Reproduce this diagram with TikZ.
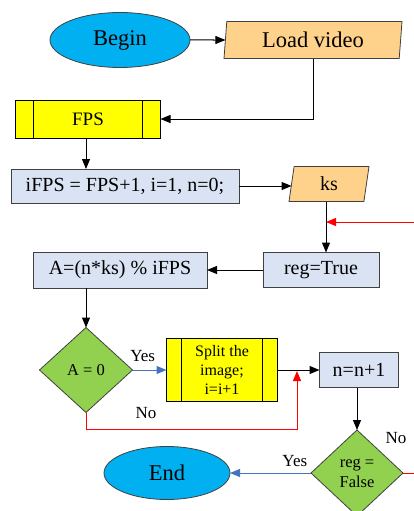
\documentclass[tikz,border=0pt]{standalone}
\usepackage{fontspec}
\setmainfont{Liberation Serif}
\usetikzlibrary{shapes.geometric,arrows.meta}

\definecolor{termblue}{RGB}{0,176,240}
\definecolor{ioorange}{RGB}{255,210,140}
\definecolor{procblue}{RGB}{218,227,243}
\definecolor{subyellow}{RGB}{255,255,0}
\definecolor{decgreen}{RGB}{146,208,80}
\definecolor{yesblue}{RGB}{68,114,196}
\definecolor{edgegray}{RGB}{64,64,64}

\begin{document}
\begin{tikzpicture}[x=1pt, y=-1pt,
  every node/.style={inner sep=0pt, outer sep=0pt, text=black},
  term/.style={ellipse, draw=edgegray, fill=termblue, line width=0.8pt,
    font=\fontsize{22.5}{24}\selectfont},
  inout/.style={trapezium, trapezium stretches body, draw=edgegray, fill=ioorange,
    line width=0.8pt, font=\fontsize{#1}{22}\selectfont},
  proc/.style={rectangle, draw=edgegray, fill=procblue, line width=1pt,
    font=\fontsize{20}{22}\selectfont},
  subproc/.style={rectangle, draw=black, fill=subyellow, line width=1pt,
    path picture={
      \draw[line width=1pt] ([xshift=#1]path picture bounding box.north west)
        -- ([xshift=#1]path picture bounding box.south west);
      \draw[line width=1pt] ([xshift=-#1]path picture bounding box.north east)
        -- ([xshift=-#1]path picture bounding box.south east);}},
  decide/.style={diamond, draw=edgegray, fill=decgreen, line width=0.8pt,
    font=\fontsize{16.5}{20}\selectfont, align=center},
  lbl/.style={font=\fontsize{17}{20}\selectfont},
  flow/.style={-{Triangle[length=10pt,width=8pt]}, line width=1pt, black},
  yesflow/.style={-{Triangle[length=10pt,width=8pt]}, line width=1pt, yesblue},
  noflow/.style={line width=1pt, red},
  ]
  \useasboundingbox (0,0) rectangle (414,511);

  % nodes
  \node[term, minimum width=140pt, minimum height=55pt] (begin) at (120,40) {Begin};
  \node[inout=22.5, trapezium left angle=80, trapezium right angle=100,
    minimum width=178pt, minimum height=37pt] (load) at (313,40) {Load video};
  \node[subproc=18pt, minimum width=145pt, minimum height=38pt,
    font=\fontsize{19}{22}\selectfont] (fps) at (88,119) {FPS};
  \node[proc, minimum width=228pt, minimum height=34pt] (ifps) at (125,186)
    {iFPS = FPS+1, i=1, n=0;};
  \node[inout=20, trapezium left angle=70, trapezium right angle=110,
    minimum width=80pt, minimum height=35pt] (ks) at (329,184) {ks};
  \node[proc, minimum width=116pt, minimum height=35pt] (regtrue) at (321,270) {reg=True};
  \node[proc, minimum width=174pt, minimum height=36pt] (abox) at (120,270)
    {A=(n*ks) \% iFPS};
  \node[decide, minimum width=93pt, minimum height=85pt] (dA) at (86,370) {A = 0};
  \node[subproc=15pt, minimum width=111pt, minimum height=63pt, align=center,
    font=\fontsize{16}{19}\selectfont] (split) at (222,370) {Split the\\image;\\i=i+1};
  \node[proc, minimum width=79pt, minimum height=35pt] (ninc) at (359,370) {n=n+1};
  \node[decide, minimum width=92pt, minimum height=86pt] (dreg) at (357,473)
    {reg =\\False};
  \node[term, minimum width=126pt, minimum height=53pt] (end) at (167,473) {End};

  % connectors
  \draw[flow] (begin) -- (load);
  \draw[flow] (load.south) |- (fps.east);
  \draw[flow] (fps.south -| 86,0) -- (ifps.north -| 86,0);
  \draw[flow] (ifps.east) -- (ifps.east -| ks.west);
  \draw[flow] (ks.south -| 326,0) -- (regtrue.north -| 326,0);
  \coordinate (backin) at (416,222);
  \draw[flow, red] (backin) -- (backin -| 326,0);
  \draw[flow] (regtrue) -- (abox);
  \draw[flow] (abox.south -| dA.north) -- (dA.north);
  \draw[yesflow] (dA) -- (split) node[lbl, pos=0.3, above=8pt] {Yes};
  \draw[flow] (split) -- (ninc);
  \coordinate (merge) at (297,371);
  \draw[noflow, -{Triangle[length=10pt,width=8pt]}] (dA.south) -- ++(0,17) -| (merge);
  \node[lbl] (no1) at (146,413) {No};
  \draw[flow] (ninc.south -| dreg.north) -- (dreg.north);
  \draw[yesflow] (dreg) -- (end) node[lbl, pos=0.2, above=6pt] {Yes};
  \coordinate (backout) at (416,473);
  \draw[noflow] (dreg.east) -- (backout);
  \node[lbl] (no2) at (396,438) {No};
\end{tikzpicture}
\end{document}
